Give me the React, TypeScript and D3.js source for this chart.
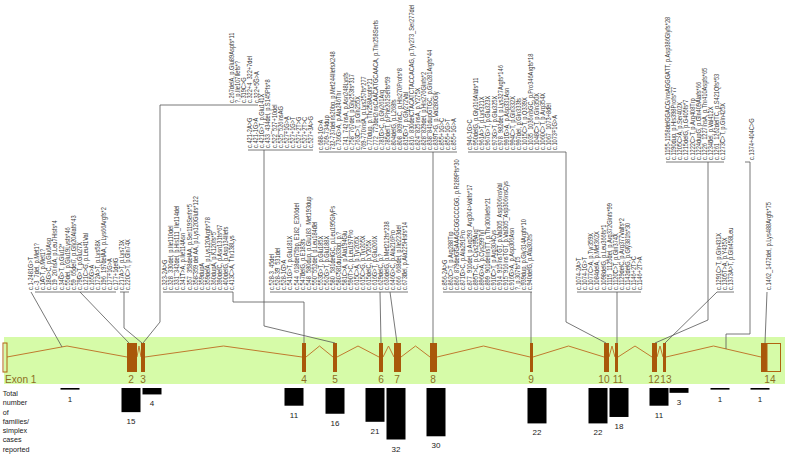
import React from 'react';
import * as d3 from 'd3';

// ---------------- DATA ----------------
const exonNames = ['Exon 1', '2', '3', '4', '5', '6', '7', '8', '9', '10', '11', '12', '13', '14'];
const countValues = [1, 15, 4, 11, 16, 21, 32, 30, 22, 22, 18, 11, 3, 1, 1];
const countLabel = ['Total', 'number', 'of', 'families/', 'simplex', 'cases', 'reported'];

const mutIntron1 = ['c.1-2481G>T'];
const mutExon2 = ['c.-3_7del, p.Met1?', 'c.1A>T, p.Met1?', 'c.18G>C, p.Glu6Asp', 'c.19_20insA, p.Leu7Hisfs*4', 'c.34G>T, p.Glu12*', 'c.55del, p.Glu19Lysfs*46', 'c.59_65del7, p.Gly20Alafs*43', 'c.79G>T, p.Glu27X', 'c.121C>G, p.Leu41Val', 'c.165G>A', 'c.172A>T, p.Lys58X', 'c.196_197delAA, p.Lys66Argfs*2', 'c.177+1G>A', 'c.177+1delG'];
const mutExon3a = ['c.217A>T, p.Lys73X', 'c.220C>T, p.Gln74X'];
const mutExon3b = ['c.267delA, p.Glu89Aspfs*11', '?, p.Ile107Ilefs*?', 'c.319C>G', 'c.322+4_322+7del', 'c.322+5G>A'];
const mutExon4 = ['c.323-2A>G', 'c.328_330del, p.Ile110del', 'c.331_342del, p.His111_Ile114del', 'c.341T>A, p.Ile114Asn', 'c.357_358delAA, p.Ser119Serfs*5', 'c.358-359 del AA, p.Lys120Glufs*122', 'c.359dupA', 'c.359delA, p.Lys120Argfs*78', 'c.360dupA, p.K120fs*5', 'c.390delC, p.Asn131fs*67', 'c.400delG, p.Asp134Ilefs', 'c.413C>A, Thr138Lys'];
const mutExon5 = ['c.421-2A>G', 'c.421-1G>A', 'c.421G>T, p.Glu141X', 'c.433_434del, p.S145Pfs*8', 'c.522_527+10del', 'c.525_526insAG', 'c.527+1G>A', 'c.527+1G>T', 'c.527+2T>G', 'c.527+2T>C', 'c.527+3A>G'];
const mutExon67 = ['c.528-3_45del', 'c.528-39_531del', 'c.528-1G>A', 'c.541G>T, p.Glu181X', 'c.544_618del75bp, E182_E206del', 'c.547delG, p.E183fs', 'c.548_580dup, p.Glu183_Met193dup', 'c.550_552del, p.Leu184del', 'c.553G>T, p.Glu185X', 'c.562G>T, p.Glu188X', 'c.580_581delGC, p.Leu195GlyFs', 'c.580-581dup33bp, p.?', 'c.581C>A, p.Ala194Glu', 'c.590T>C, p.Leu197Pro', 'c.615C>A, p.Tyr205X', 'c.615C>G, p.Tyr205X', 'c.615delC, p.Y205X', 'c.616G>T, p.Glu206X', 'c.629delC, p.?', 'c.636delG, p.Met212fs*238', 'c.646G>C, p.Ala216Pro', 'c.666_668del, p.Ile223del', 'c.673del, p.Ala225Hisfs*14'];
const mutExon8 = ['c.688-1G>A', 'c.709-734dup', '732-737delins20bp, p.Met244IlefsX248', 'c.736G>A, p.Ala246Thr', 'c.741_742insA, p.Asn248Lysfs', 'c.758_767del, p.Gly253fs*317', 'c.763C>T, p.Gln255X', '769-770insA, p.Lys257fs*277', 'c.770dup, p.Thr258Aspfs*21', 'c.772_773del2insCAACATGCAACA, p.Thr258Serfs', 'c.781G>C, p.Gly261Arg', 'c.785delT, p.Phe262Serfs*59', 'c.804delG, p.L268fs', 'c.808_809insC, p.His270Profs*8', 'c.815G>T, p.Gly272Val', 'c.816_830delCTACATCTACCACAG, p.Tyr273_Ser277del', 'c.824_825insA, p.Y275X', 'c.828_829del, p.His276Glnfs*2', 'c.838_841dupGTGC, p.Gln281Argfs*44', 'c.839T>G, p.Val280Gly', 'c.855+1G>C', 'c.855+1G>T', 'c.855+1G>A'];
const mutExon9 = ['c.856-2A>G', 'c.862C>T, p.Arg288Trp', 'c.866_879delGGAAAGCGGCCCGG, p.R289Pfs*30', 'c.871G>C, p.Ala291Pro', 'c.877_910del, p.Arg293_Arg304>Valfs*17', 'c.895T>C, p.Cys299Arg', 'c.896G>A, p.Cys299Tyr', 'c.899_901delinsTT, p.Thr300Ilefs*21', 'c.910C>T, p.Arg304Cys', 'c.914_915insTGT, p.Val305_Asp306insVal', 'c.915_916insTGT, p.Val305_Asp306insCys', 'c.916G>A, p.Asp306Asn', '?, p.307fs*15', 'c.939dup, p.Gly314Argfs*10', 'c.940delG, p.Ala302fs'];
const mutExon10 = ['c.946-1G>C', 'c.950delG, p.Gly316Alafs*11', 'c.961A>T, p.Lys321X', 'c.967G>T, p.Glu323X', 'c.973G>T, p.Glu325X', 'c.978_982del, p.Lys327Argfs*146', 'c.991G>A, p.Asp331Asn', 'c.994C>T, p.Gln332X', 'c.997del, p.Gln333fs', 'c.1015C>T, p.Q339X', 'c.1035_1036insGC, p.Pro346Argfs*18', 'c.1048C>T, p.Gln350X', 'c.1060C>T, p.Arg354X', 'c.1067_1073+8del', 'c.1073+1G>A'];
const mutExon11 = ['c.1074-2A>T', 'c.1074-1G>T', 'c.1077C>A, p.Tyr359X', 'c.1084delA, p.Met362X', 'c.1098delG, p.Leu366fs*1', 'c.1115_1125del, p.Arg372Glnfs*99', 'c.1120C>T, p.Gln374X', 'c.1129delC, p.Arg377Valfs*2', 'c.1142delG, p.Gly381fs*30', 'c.1146+2T>C', 'c.1146+2T>A'];
const mutExon12 = ['c.1155-1158delGGACG/insAGGGATT, p.Asp386Glyfs*28', 'c.1190dup, p.His398Profs*77', 'c.1205C>A, p.Ser402X', 'c.1215delG, p.G405fs*7', 'c.1222C>T, p.Arg408Trp', 'c.1224dupG, p.Gln409Alafs*66', 'c.1226_1227insA, p.Thr410Aspfs*65', 'c.1234del, p.Val412X', 'c.1261_1262delTC, p.S421Qfs*53', 'c.1273C>T, p.Gln425X'];
const mutExon13 = ['c.1291C>T, p.Gln431X', 'c.1305T>A, p.Y435X', 'c.1373A>T, p.Gln458Leu'];
const mutIntron13 = ['c.1374+404C>G'];
const mutExon14 = ['c.1462_1472del, p.Lys488Argfs*75'];

// ---------------- LAYOUT ----------------
const W = 789, H = 454;
const exonSpan: [number, number][] = [[3, 7], [127, 137], [141, 145], [302, 306], [333, 337], [379, 383], [394, 401], [430, 437], [530, 533], [604, 609], [615, 618], [652, 657], [663, 666], [761, 781]];
const exonLabelPos = [5, 131, 143, 304, 335, 381, 397, 433, 531, 604, 618, 654, 666, 770];
const barCenter = [70, 131, 152, 294, 335, 375, 396, 436, 537, 598, 619, 659, 679, 720, 760];

type Group = { lines: string[]; x0: number; base: number; paths: [number, number][][] };
const groups: Group[] = [
  { lines: mutIntron1, x0: 31, base: 290, paths: [[[31, 292], [62, 347]]] },
  { lines: mutExon2, x0: 37, base: 290, paths: [[[35, 292], [116, 292]], [[80, 292], [129, 343]]] },
  { lines: mutExon3a, x0: 122, base: 290, paths: [[[120, 292], [129, 292]], [[124, 292], [124, 328], [142, 343]]] },
  { lines: mutExon3b, x0: 232, base: 103, paths: [[[229, 105], [258, 105]], [[229, 105], [160, 105], [160, 322], [143, 343]]] },
  { lines: mutExon4, x0: 165, base: 290, paths: [[[163, 292], [233, 292]], [[233, 292], [233, 302], [304, 302], [304, 343]]] },
  { lines: mutExon5, x0: 250, base: 148, paths: [[[248, 150], [313, 150]], [[264, 150], [264, 326], [335, 343]]] },
  { lines: mutExon67, x0: 272, base: 290, paths: [[[270, 292], [408, 292]], [[380, 292], [381, 343]], [[390, 292], [397, 343]]] },
  { lines: mutExon8, x0: 321, base: 150, paths: [[[319, 152], [457, 152]], [[433, 152], [433, 343]]] },
  { lines: mutExon9, x0: 445, base: 290, paths: [[[443, 292], [532, 292]], [[531, 292], [531, 343]]] },
  { lines: mutExon10, x0: 470, base: 150, paths: [[[468, 152], [566, 152], [566, 322], [606, 343]]] },
  { lines: mutExon11, x0: 579, base: 290, paths: [[[577, 292], [641, 292]], [[617, 292], [617, 343]]] },
  { lines: mutExon12, x0: 668, base: 160, paths: [[[666, 162], [724, 162]], [[708, 162], [708, 320], [655, 343]]] },
  { lines: mutExon13, x0: 719, base: 290, paths: [[[717, 292], [734, 292]], [[717, 292], [665, 343]]] },
  { lines: mutIntron13, x0: 752, base: 160, paths: [[[745, 162], [750, 162], [750, 334], [726, 334], [726, 349]]] },
  { lines: mutExon14, x0: 769, base: 290, paths: [[[767, 292], [765, 343]]] },
];

const LINE_DX = 6.05;
const MUT_FONT = "'Liberation Sans', Arial, sans-serif";
const LABEL_FONT = "'Liberation Sans', Arial, sans-serif";

export default function App() {
  const x = d3.scaleLinear().domain([0, W]).range([0, W]);
  const barTop = 388;
  const yBar = d3.scaleLinear().domain([0, 32]).range([0, 51.5]);
  const barW = 19;

  const exonY0 = 343, exonY1 = 372, exonMid = 357, intronPeak = 346;
  const line = d3.line<[number, number]>().x(d => x(d[0])).y(d => d[1]);
  const introns: [number, number][][] = [];
  for (let i = 0; i < exonSpan.length - 1; i++) {
    const a = exonSpan[i][1];
    const b = exonSpan[i + 1][0];
    introns.push([[a, exonMid], [(a + b) / 2, intronPeak], [b, exonMid]]);
  }

  return (
    <svg width={W} height={H} style={{ position: 'absolute', left: 0, top: 0, background: '#fff' }}>
      <rect x={x(4)} y={337} width={x(785) - x(4)} height={47} fill="#d6fba8" />
      {introns.map((p, i) => (
        <path key={'in' + i} d={line(p) || ''} fill="none" stroke="#c07a2e" strokeWidth={1} />
      ))}
      {exonSpan.map((s, i) => {
        if (i === 0) {
          return <rect key={'ex' + i} x={x(s[0])} y={exonY0} width={x(s[1]) - x(s[0])} height={exonY1 - exonY0} fill="none" stroke="#b0620f" strokeWidth={1} />;
        }
        if (i === exonSpan.length - 1) {
          return (
            <g key={'ex' + i}>
              <rect x={x(s[0])} y={exonY0} width={6} height={exonY1 - exonY0} fill="#a9580a" />
              <rect x={x(s[0]) + 6} y={exonY0 + 0.5} width={x(s[1]) - x(s[0]) - 6.5} height={exonY1 - exonY0 - 1} fill="none" stroke="#b0620f" strokeWidth={1} />
            </g>
          );
        }
        return <rect key={'ex' + i} x={x(s[0])} y={exonY0} width={x(s[1]) - x(s[0])} height={exonY1 - exonY0} fill="#a9580a" />;
      })}
      {exonNames.map((n, i) => (
        <text key={'el' + i} x={x(exonLabelPos[i])} y={383} fontSize={11.5} fill="#8c6d1f" textAnchor={i === 0 ? 'start' : 'middle'} fontFamily={LABEL_FONT} transform={`translate(${x(exonLabelPos[i])},0) scale(0.88,1) translate(${-x(exonLabelPos[i])},0)`}>{n}</text>
      ))}

      {groups.map((g, gi) => (
        <g key={'g' + gi}>
          {g.paths.map((p, pi) => (
            <path key={pi} d={line(p) || ''} fill="none" stroke="#555" strokeWidth={0.8} />
          ))}
          {g.lines.map((t, li) => {
            const tx = x(g.x0 + li * LINE_DX);
            return (
              <text key={li} transform={`translate(${tx},${g.base}) rotate(-90) scale(0.86,1)`} fontSize={6.6} fill="#383838" fontFamily={MUT_FONT} dy="0.35em">{t}</text>
            );
          })}
        </g>
      ))}

      {countLabel.map((t, i) => (
        <text key={'cl' + i} x={3} y={396 + i * 9.3} fontSize={8} fill="#222" fontFamily={LABEL_FONT} transform={`scale(0.9,1)`}>{t}</text>
      ))}
      {countValues.map((v, i) => {
        const h = Math.max(yBar(v), 1.6);
        const cx = x(barCenter[i]);
        return (
          <g key={'b' + i}>
            <rect x={cx - barW / 2} y={barTop} width={barW} height={h} fill="#000" />
            <text x={cx} y={barTop + h + 12} fontSize={8} textAnchor="middle" fill="#222" fontFamily={LABEL_FONT}>{v}</text>
          </g>
        );
      })}
    </svg>
  );
}
